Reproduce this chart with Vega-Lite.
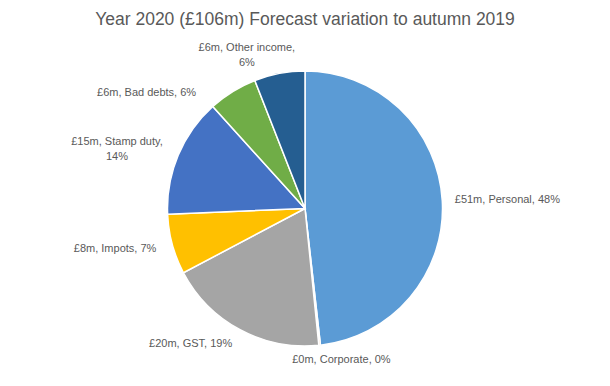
{
  "$schema": "https://vega.github.io/schema/vega-lite/v6.json",
  "width": 610,
  "height": 355,
  "autosize": {"type": "none"},
  "padding": {"top": 31, "left": 0, "right": 0, "bottom": 0},
  "background": "white",
  "config": {"view": {"stroke": null}},
  "title": {
    "text": "Year 2020 (£106m) Forecast variation to autumn 2019",
    "font": "Liberation Sans",
    "fontSize": 17.5,
    "fontWeight": "normal",
    "color": "#595959",
    "anchor": "middle",
    "frame": "group",
    "offset": 3
  },
  "data": {
    "values": [
      {"category": "Personal", "rank": 1, "value": 51.1, "label": "£51m, Personal, 48%"},
      {"category": "Corporate", "rank": 2, "value": 0.2, "label": "£0m, Corporate, 0%"},
      {"category": "GST", "rank": 3, "value": 20.0, "label": "£20m, GST, 19%"},
      {"category": "Impots", "rank": 4, "value": 7.5, "label": "£8m, Impots, 7%"},
      {"category": "Stamp duty", "rank": 5, "value": 14.8, "label": "£15m, Stamp duty,\n14%"},
      {"category": "Bad debts", "rank": 6, "value": 6.1, "label": "£6m, Bad debts, 6%"},
      {"category": "Other income", "rank": 7, "value": 6.3, "label": "£6m, Other income,\n6%"}
    ]
  },
  "encoding": {
    "theta": {"field": "value", "type": "quantitative", "stack": true},
    "order": {"field": "rank", "type": "quantitative", "sort": "ascending"},
    "color": {
      "field": "category",
      "type": "nominal",
      "scale": {
        "domain": ["Personal", "Corporate", "GST", "Impots", "Stamp duty", "Bad debts", "Other income"],
        "range": ["#5B9BD5", "#ED7D31", "#A5A5A5", "#FFC000", "#4472C4", "#70AD47", "#255E91"]
      },
      "legend": null
    }
  },
  "layer": [
    {
      "mark": {"type": "arc", "outerRadius": 137.5, "stroke": "white", "strokeWidth": 1.5}
    },
    {
      "mark": {"type": "text", "radius": 154, "align": "right", "baseline": "middle", "font": "Liberation Sans", "fontSize": 11, "lineBreak": "\n", "lineHeight": 15},
      "encoding": {
        "text": {"field": "label"},
        "color": {"value": "#595959"},
        "opacity": {"condition": {"test": "indexof(['GST','Impots'], datum.category) >= 0", "value": 1}, "value": 0}
      }
    },
    {
      "mark": {"type": "text", "radius": 159, "thetaOffset": -0.2, "align": "right", "baseline": "middle", "font": "Liberation Sans", "fontSize": 11, "lineBreak": "\n", "lineHeight": 15},
      "encoding": {
        "text": {"field": "label"},
        "color": {"value": "#595959"},
        "opacity": {"condition": {"test": "datum.category === 'Bad debts'", "value": 1}, "value": 0}
      }
    },
    {
      "mark": {"type": "text", "radius": 154, "dx": -46, "dy": -7, "align": "center", "baseline": "middle", "font": "Liberation Sans", "fontSize": 11, "lineBreak": "\n", "lineHeight": 15},
      "encoding": {
        "text": {"field": "label"},
        "color": {"value": "#595959"},
        "opacity": {"condition": {"test": "datum.category === 'Stamp duty'", "value": 1}, "value": 0}
      }
    },
    {
      "mark": {"type": "text", "radius": 166, "dy": -5, "thetaOffset": -0.171, "align": "center", "baseline": "middle", "font": "Liberation Sans", "fontSize": 11, "lineBreak": "\n", "lineHeight": 15},
      "encoding": {
        "text": {"field": "label"},
        "color": {"value": "#595959"},
        "opacity": {"condition": {"test": "datum.category === 'Other income'", "value": 1}, "value": 0}
      }
    },
    {
      "mark": {"type": "text", "radius": 150, "align": "left", "baseline": "middle", "font": "Liberation Sans", "fontSize": 11, "lineBreak": "\n", "lineHeight": 15},
      "encoding": {
        "text": {"field": "label"},
        "color": {"value": "#595959"},
        "opacity": {"condition": {"test": "datum.category === 'Personal'", "value": 1}, "value": 0}
      }
    },
    {
      "mark": {"type": "text", "radius": 156, "thetaOffset": -0.129, "align": "center", "baseline": "middle", "font": "Liberation Sans", "fontSize": 11, "lineBreak": "\n", "lineHeight": 15},
      "encoding": {
        "text": {"field": "label"},
        "color": {"value": "#595959"},
        "opacity": {"condition": {"test": "datum.category === 'Corporate'", "value": 1}, "value": 0}
      }
    }
  ]
}
